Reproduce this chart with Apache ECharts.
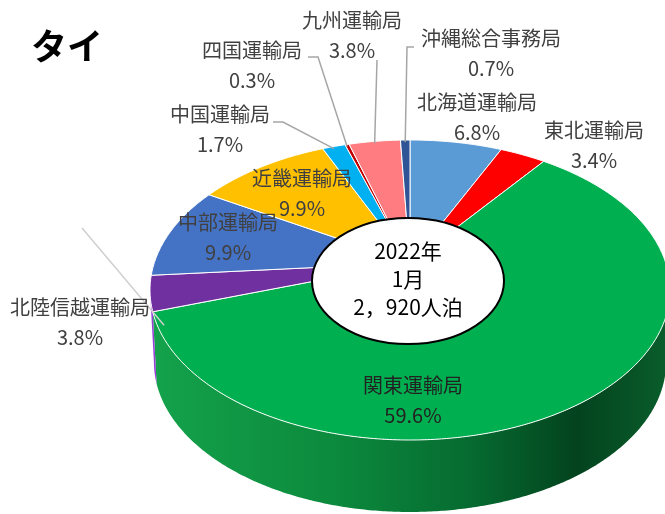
<!DOCTYPE html>
<html>
<head>
<meta charset="utf-8">
<script src="https://cdn.jsdelivr.net/npm/echarts@6/dist/echarts.min.js"></script>
<style>
  html, body { margin: 0; padding: 0; background: #fff; }
  #main { width: 665px; height: 514px; }
</style>
</head>
<body>
<div id="main"></div>
<script>
// ===== データ（タイ 2022年1月 運輸局別 延べ宿泊者数 構成比）=====
const names = ['北海道運輸局', '東北運輸局', '関東運輸局', '北陸信越運輸局', '中部運輸局',
               '近畿運輸局', '中国運輸局', '四国運輸局', '九州運輸局', '沖縄総合事務局'];
const shares = [6.8, 3.4, 59.6, 3.8, 9.9, 9.9, 1.7, 0.3, 3.8, 0.7];
const colors = ['#5b9bd5', '#ff0000', '#00b050', '#7030a0', '#4472c4',
                '#ffc000', '#00b0f0', '#c00000', '#ff7c80', '#2f5597'];
const centerLines = ['2022年', '1月', '2，920人泊'];

// ラベル位置（Excel側で手動配置されたもの）
const labelPos = [[477, 117], [594, 145], [413, 400], [80, 322], [228, 237],
                  [302, 193], [220, 129], [252, 65], [352, 35], [491, 53]];
// 引き出し線の折れ点（ラベル側）
const leaderPts = [null, null, null, [[82, 228]], null, null,
                   [[283, 122], [273, 122]], [[318, 57], [308, 57]], [[377, 60]], [[407, 47], [414, 47]]];

// 3D円グラフの見た目
const PIE = { cx: 410, cy: 290, rx: 260, ry: 150, depth: 72, persp: 0.18, bottomScale: 0.985 };
const FONT = '"Noto Sans CJK JP", "Noto Sans", sans-serif';

const total = shares.reduce((a, b) => a + b, 0);
const starts = [];
let acc = 0;
shares.forEach(v => { starts.push(acc / total * 360); acc += v; });

// 角度（上から時計回り）→ 画面座標（簡易透視投影）
function proj(deg, dy, k) {
  const t = deg * Math.PI / 180, c = PIE.persp;
  const s = k || 1;
  const x = Math.sin(t), z = Math.cos(t), w = 1 + c * z;
  const u = x / w * Math.sqrt(1 - c * c);
  const v = (z / w + c / (1 - c * c)) * (1 - c * c);
  return [PIE.cx + u * PIE.rx * s, PIE.cy - v * PIE.ry + (dy || 0)];
}
function pieCenter() {
  return [PIE.cx, PIE.cy - PIE.persp * PIE.ry];
}

// 側面が見える範囲（輪郭の接線が垂直になる角度）
const sideA = Math.acos(-PIE.persp) * 180 / Math.PI;
const SIDE_FROM = sideA, SIDE_TO = 360 - sideA;

function wallFill(i) {
  if (i === 2) {
    return new echarts.graphic.LinearGradient(0, 0, 1, 0, [
      { offset: 0, color: '#14a24b' },
      { offset: 0.35, color: '#0c8a3d' },
      { offset: 0.62, color: '#066a30' },
      { offset: 0.82, color: '#03431e' },
      { offset: 1, color: '#0a5e2c' }
    ]);
  }
  return echarts.color.lift(colors[i], -0.35);
}

function renderItem(params, api) {
  const i = params.dataIndex;
  const a0 = starts[i];
  const a1 = a0 + api.value(0) / total * 360;
  const children = [];

  // 側面（手前側のみ）
  const w0 = Math.max(a0, SIDE_FROM), w1 = Math.min(a1, SIDE_TO);
  if (w1 > w0) {
    const pts = [];
    for (let a = w0; a < w1; a += 0.5) pts.push(proj(a));
    pts.push(proj(w1));
    for (let a = w1; a > w0; a -= 0.5) pts.push(proj(a, PIE.depth, PIE.bottomScale));
    pts.push(proj(w0, PIE.depth, PIE.bottomScale));
    children.push({ type: 'polygon', shape: { points: pts }, style: { fill: wallFill(i) }, z2: 1 });
  }

  // 上面
  const top = [pieCenter()];
  for (let a = a0; a < a1; a += 0.5) top.push(proj(a));
  top.push(proj(a1));
  children.push({
    type: 'polygon', shape: { points: top },
    style: { fill: colors[i], stroke: '#ffffff', lineWidth: 1, lineJoin: 'round' }, z2: 5
  });

  // 引き出し線
  if (leaderPts[i]) {
    let target;
    if (i === 3) {
      const p = proj(a0), q = leaderPts[i][0];
      target = [p[0] + (p[0] - q[0]) * 0.16, p[1] + (p[1] - q[1]) * 0.16];
    } else {
      target = proj((a0 + a1) / 2);
      target = [target[0], target[1] + 2];
    }
    children.push({
      type: 'polyline',
      shape: { points: [target].concat(leaderPts[i]) },
      style: { stroke: i === 3 ? '#cfcfcf' : '#a6a6a6', lineWidth: 1.5, fill: null },
      z2: 15
    });
  }

  // ラベル
  children.push({
    type: 'text', x: labelPos[i][0], y: labelPos[i][1],
    style: {
      text: names[i] + '\n' + api.value(0).toFixed(1) + '%',
      fontFamily: FONT, fontSize: 20, lineHeight: 30,
      fill: i === 2 ? '#222222' : '#404040',
      align: 'center', verticalAlign: 'middle'
    },
    z2: 20
  });

  return { type: 'group', children: children };
}

const chart = echarts.init(document.getElementById('main'), null, { renderer: 'canvas' });

chart.setOption({
  animation: false,
  title: {
    text: 'タイ', left: 26, top: 23,
    textStyle: { fontFamily: FONT, fontSize: 36, fontWeight: 'bold', color: '#000' }
  },
  series: [{
    type: 'custom',
    coordinateSystem: 'none',
    renderItem: renderItem,
    data: shares.map((v, i) => ({ name: names[i], value: [v] }))
  }],
  graphic: [
    {
      type: 'ellipse', z: 10,
      shape: { cx: 408, cy: 281, rx: 96, ry: 63 },
      style: { fill: '#ffffff', stroke: '#000000', lineWidth: 2 }
    },
    {
      type: 'text', z: 11, x: 408, y: 279,
      style: {
        text: centerLines.join('\n'), fontFamily: FONT, fontSize: 21, lineHeight: 28,
        fill: '#000', align: 'center', verticalAlign: 'middle'
      }
    }
  ]
});
</script>
</body>
</html>
